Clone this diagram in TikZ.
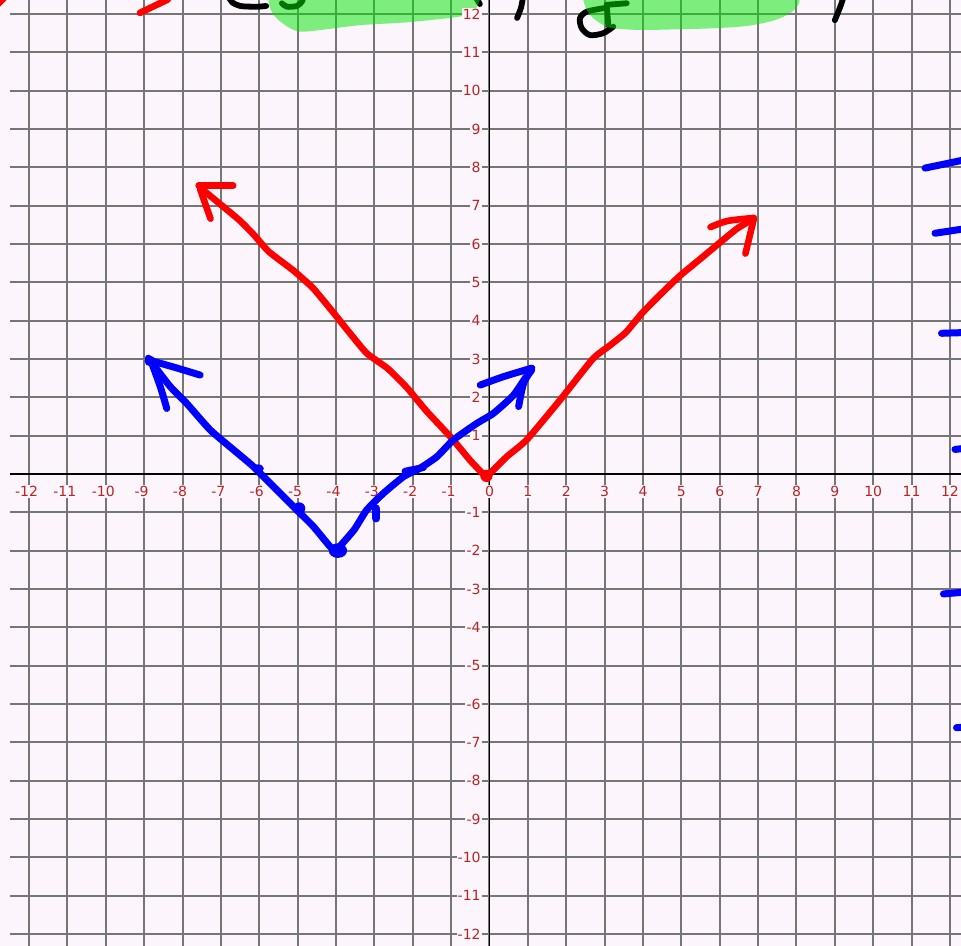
\documentclass[tikz,border=0pt]{standalone}
\usepackage{fontspec}
\setmainfont{DejaVu Sans}
\definecolor{bgc}{RGB}{252,246,252}
\definecolor{gridc}{RGB}{118,118,118}
\definecolor{labc}{RGB}{185,35,35}
\definecolor{penred}{RGB}{255,0,0}
\definecolor{penblue}{RGB}{0,0,255}
\definecolor{hlc}{RGB}{0,230,0}
\begin{document}
\begin{tikzpicture}[x=19.1875pt,y=19.165pt,
  gridline/.style={draw=gridc,line width=1pt},
  axisline/.style={draw=black,line width=0.9pt},
  xlab/.style={fill=bgc,text=labc,inner sep=0.6pt,font=\fontsize{7}{7}\selectfont},
  ylab/.style={xlab,anchor=east},
  redpen/.style={draw=penred,line width=3.3pt,line cap=round,line join=round},
  bluepen/.style={draw=penblue,line width=3.5pt,line cap=round,line join=round},
  blackpen/.style={draw=black,line width=2.9pt,line cap=round,line join=round},
  highlight/.style={fill=hlc,fill opacity=0.5}]
\path[use as bounding box,fill=bgc] (-12.756,-12.314) rectangle (12.287,12.366);
\clip (-12.756,-12.314) rectangle (12.287,12.366);
% grid
\foreach \k in {-12,...,12} {
  \draw[gridline] (\k,-12.5) -- (\k,12.5);
  \draw[gridline] (-12.5,\k) -- (12.5,\k);
}
\draw[axisline] (0,-12.5) -- (0,12.5);
\draw[axisline] (-12.5,0) -- (12.5,0);
% black handwriting (under highlight)
\draw[blackpen] plot[smooth,tension=0.5] coordinates {(-6.79,12.44) (-6.71,12.31) (-6.50,12.21) (-6.08,12.19) (-5.82,12.21)};
\draw[blackpen] plot[smooth,tension=0.5] coordinates {(-5.41,12.28) (-5.28,12.19) (-5.02,12.21) (-4.89,12.32) (-4.86,12.42)};
\draw[blackpen] (-0.35,12.42) -- (-0.25,12.26);
\draw[blackpen] plot[smooth,tension=0.5] coordinates {(0.87,12.42) (0.82,12.16) (0.72,11.9)};
\draw[blackpen] (3.054,12.24) -- (3.575,12.28);
\draw[blackpen] (3.054,12.24) -- (3.096,11.71);
\draw[blackpen] plot[smooth,tension=0.5] coordinates {(2.966,12.15) (2.533,12.06) (2.358,11.89) (2.403,11.63) (2.619,11.45) (2.966,11.5) (3.226,11.67)};
\draw[blackpen] plot[smooth,tension=0.5] coordinates {(9.22,12.42) (9.13,12.16) (9.0,11.84)};
% highlights
\path[highlight] plot[smooth,tension=0.5] coordinates {(-5.77,12.44) (-5.72,12.16) (-5.56,11.9) (-5.25,11.66) (-4.94,11.54) (-4.42,11.58) (-3.37,11.71) (-2.33,11.77) (-1.55,11.84) (-0.69,11.95) (-0.38,12.11) (-0.25,12.37) (-0.22,12.44)} -- cycle;
\path[highlight] plot[smooth,tension=0.5] coordinates {(2.44,12.44) (2.444,12.366) (2.533,12.105) (2.705,11.889) (2.966,11.714) (3.226,11.628) (3.922,11.584) (4.964,11.602) (5.832,11.628) (6.702,11.688) (7.395,11.827) (7.831,12.019) (8.047,12.236) (8.09,12.44)} -- cycle;
% labels
\node[xlab] (x0) at (0,-0.46) {0};
\foreach \k in {1,...,12} {
  \node[xlab] (xp\k) at (\k,-0.46) {\k};
  \node[xlab] (xn\k) at (-\k,-0.46) {\llap{-}\k};
  \node[ylab] (yp\k) at (-0.19,\k) {\k};
  \node[ylab] (yn\k) at (-0.19,-\k) {-\k};
}
% red top strokes
\draw[redpen] (-9.11,12.03) -- (-8.4,12.37) -- (-8.2,12.6);
\draw[redpen] (-12.91,12.16) -- (-12.6,12.47);
% red V
\draw[redpen] plot[smooth,tension=0.3] coordinates {(-0.12,-0.05) (-0.5,0.35) (-1.0,0.95) (-1.65,1.65) (-2.15,2.25) (-2.65,2.75) (-3.2,3.15) (-3.7,3.75) (-4.1,4.25) (-4.6,4.85) (-5.1,5.3) (-5.75,5.8) (-6.15,6.25) (-6.55,6.65) (-7.54,7.47)};
\draw[redpen] plot[smooth,tension=0.3] coordinates {(-0.05,-0.05) (0.45,0.45) (0.97,0.89) (1.84,1.93) (2.69,3.0) (3.12,3.34) (3.55,3.69) (3.98,4.2) (4.41,4.64) (4.95,5.16) (5.48,5.6) (6.02,6.05) (6.45,6.4) (6.88,6.66)};
\draw[redpen] (-6.68,7.52) -- (-7.58,7.52);
\draw[redpen] (-7.54,7.43) -- (-7.27,6.66);
\draw[redpen] plot[smooth,tension=0.5] coordinates {(5.76,6.44) (6.2,6.6) (6.89,6.68)};
\draw[redpen] (6.89,6.66) -- (6.67,5.75);
\fill[penred] (-0.08,-0.05) circle (0.16);
% blue V
\draw[bluepen] plot[smooth,tension=0.3] coordinates {(-8.89,3.02) (-8.32,2.28) (-7.89,1.84) (-7.28,1.15) (-6.67,0.63) (-6.15,0.19) (-5.54,-0.42) (-5.02,-0.94) (-4.59,-1.37) (-4.15,-1.9) (-3.98,-2.0)};
\draw[bluepen] plot[smooth,tension=0.3] coordinates {(-3.98,-1.98) (-3.53,-1.46) (-3.2,-0.94) (-2.76,-0.5) (-2.24,-0.07) (-1.81,0.15) (-1.37,0.45) (-0.94,0.89) (-0.33,1.32) (0.1,1.58) (0.63,2.06) (1.1,2.76)};
\draw[bluepen] plot[smooth,tension=0.5] coordinates {(-8.8,2.95) (-8.2,2.78) (-7.54,2.58)};
\draw[bluepen] plot[smooth,tension=0.5] coordinates {(-8.8,2.89) (-8.58,2.28) (-8.41,1.71)};
\fill[penblue] (-8.85,2.95) circle (0.14);
\draw[bluepen] plot[smooth,tension=0.5] coordinates {(-0.24,2.32) (0.37,2.54) (1.1,2.76)};
\draw[bluepen] plot[smooth,tension=0.5] coordinates {(1.1,2.71) (0.89,2.37) (0.76,1.76)};
\fill[penblue] (-6.03,0.14) ellipse (0.15 and 0.11);
\fill[penblue] (-4.96,-0.9) circle (0.16);
\fill[penblue] (-3.95,-2.0) ellipse (0.24 and 0.19);
\draw[bluepen,line width=4pt] (-2.95,-0.9) -- (-2.95,-1.16);
\draw[bluepen] (-2.2,0.07) -- (-1.72,0.17);
% blue dashes at right edge
\draw[bluepen] (11.35,7.98) -- (12.4,8.2);
\draw[bluepen] (11.61,6.28) -- (12.4,6.4);
\draw[bluepen] (11.78,3.67) -- (12.4,3.69);
\draw[bluepen] (12.13,0.64) -- (12.4,0.67);
\draw[bluepen] (11.83,-3.13) -- (12.4,-3.08);
\draw[bluepen] (12.17,-6.62) -- (12.4,-6.6);
\end{tikzpicture}
\end{document}
